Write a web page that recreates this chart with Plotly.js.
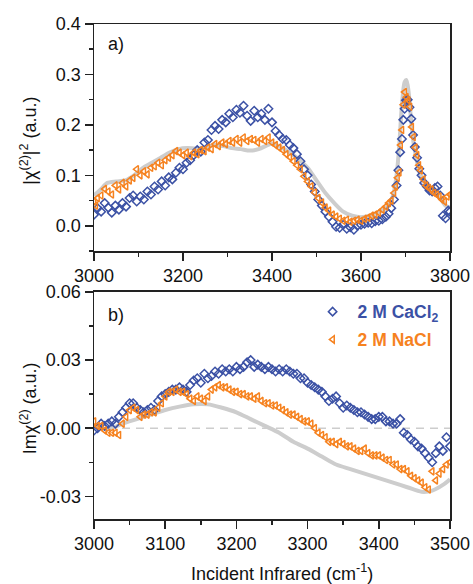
<!DOCTYPE html>
<html>
<head>
<meta charset="utf-8">
<script src="https://cdn.plot.ly/plotly-3.0.1.min.js"></script>
<style>html,body{margin:0;padding:0;background:#fff}#chart{width:473px;height:584px}</style>
</head>
<body>
<div id="chart"></div>
<script>
// ---------- Panel a) |chi(2)|^2 ----------
const topCaX = [3000,3008,3016,3024,3032,3040,3048,3056,3064,3072,3080,3088,3096,3104,3112,3120,3128,3136,3144,3152,3160,3168,3176,3184,3192,3200,3208,3216,3224,3232,3240,3248,3256,3264,3272,3280,3288,3296,3304,3312,3320,3328,3336,3344,3352,3360,3368,3376,3384,3392,3400,3408,3416,3424,3432,3440,3448,3456,3464,3472,3480,3488,3496,3504,3512,3520,3528,3536,3544,3552,3560,3568,3576,3584,3592,3600,3608,3616,3624,3632,3640,3648,3656,3662,3668,3674,3680,3684,3688,3692,3695,3698,3701,3705,3709,3713,3717,3721,3726,3731,3736,3742,3748,3754,3760,3766,3772,3778,3784,3790,3796,3800];
const topCaY = [0.022,0.035,0.028,0.045,0.036,0.026,0.040,0.032,0.045,0.038,0.055,0.060,0.048,0.058,0.052,0.068,0.062,0.078,0.072,0.088,0.080,0.096,0.092,0.105,0.115,0.112,0.125,0.130,0.140,0.150,0.147,0.165,0.170,0.190,0.198,0.192,0.210,0.205,0.222,0.215,0.230,0.224,0.238,0.218,0.208,0.228,0.215,0.222,0.210,0.232,0.205,0.188,0.180,0.172,0.170,0.160,0.154,0.142,0.128,0.112,0.100,0.082,0.068,0.052,0.040,0.028,0.018,0.008,-0.002,-0.004,0.002,-0.006,-0.003,-0.008,0.000,0.002,0.004,0.006,0.005,0.009,0.010,0.013,0.018,0.024,0.035,0.052,0.080,0.110,0.146,0.172,0.210,0.232,0.249,0.250,0.235,0.212,0.180,0.156,0.135,0.113,0.100,0.085,0.078,0.070,0.068,0.075,0.078,0.060,0.020,0.015,0.030,0.028];

const topNaX = [3000,3004,3008,3016,3024,3032,3040,3048,3056,3064,3072,3080,3088,3096,3104,3112,3120,3128,3136,3144,3152,3160,3168,3176,3184,3192,3200,3208,3216,3224,3232,3240,3248,3256,3264,3272,3280,3288,3296,3304,3312,3320,3328,3336,3344,3352,3360,3368,3376,3384,3392,3400,3408,3416,3424,3432,3440,3448,3456,3464,3472,3480,3488,3496,3504,3512,3520,3528,3536,3544,3552,3560,3568,3576,3584,3592,3600,3608,3616,3624,3632,3640,3648,3656,3662,3668,3674,3678,3682,3686,3689,3692,3695,3698,3702,3706,3710,3714,3718,3722,3726,3730,3734,3740,3746,3752,3758,3764,3770,3776,3782,3788,3794,3800];
const topNaY = [0.048,0.040,0.055,0.060,0.073,0.068,0.062,0.080,0.072,0.085,0.078,0.090,0.095,0.112,0.100,0.108,0.102,0.115,0.118,0.125,0.120,0.130,0.135,0.140,0.148,0.145,0.140,0.145,0.138,0.145,0.142,0.150,0.148,0.155,0.152,0.162,0.158,0.165,0.162,0.168,0.165,0.172,0.165,0.175,0.168,0.172,0.170,0.165,0.172,0.168,0.175,0.165,0.160,0.155,0.150,0.142,0.136,0.128,0.120,0.112,0.098,0.088,0.078,0.066,0.055,0.046,0.036,0.030,0.022,0.018,0.014,0.010,0.012,0.008,0.010,0.012,0.010,0.014,0.016,0.020,0.022,0.026,0.032,0.038,0.045,0.050,0.065,0.078,0.095,0.106,0.160,0.190,0.240,0.265,0.255,0.249,0.236,0.196,0.176,0.155,0.140,0.120,0.110,0.092,0.080,0.075,0.072,0.065,0.062,0.058,0.052,0.048,0.058,0.062];

const topRefX = [3000,3015,3030,3050,3070,3090,3110,3130,3150,3170,3190,3210,3230,3250,3270,3290,3310,3330,3350,3370,3390,3400,3420,3440,3460,3480,3500,3520,3540,3560,3580,3600,3620,3640,3660,3672,3680,3686,3692,3698,3702,3707,3712,3718,3724,3732,3745,3760,3775,3790,3800];
const topRefY = [0.060,0.072,0.085,0.088,0.090,0.100,0.115,0.125,0.135,0.145,0.152,0.154,0.153,0.155,0.160,0.158,0.154,0.152,0.149,0.152,0.160,0.163,0.156,0.145,0.132,0.115,0.090,0.065,0.045,0.028,0.020,0.017,0.020,0.027,0.038,0.060,0.100,0.160,0.240,0.285,0.289,0.265,0.215,0.165,0.135,0.105,0.082,0.070,0.058,0.040,0.036];

// ---------- Panel b) Im chi(2) ----------
const botX = [3000,3005,3010,3015,3020,3025,3030,3035,3040,3045,3050,3055,3060,3065,3070,3075,3080,3085,3090,3095,3100,3105,3110,3115,3120,3125,3130,3135,3140,3145,3150,3155,3160,3165,3170,3175,3180,3185,3190,3195,3200,3205,3210,3215,3220,3225,3230,3235,3240,3245,3250,3255,3260,3265,3270,3275,3280,3285,3290,3295,3300,3305,3310,3315,3320,3325,3330,3335,3340,3345,3350,3355,3360,3365,3370,3375,3380,3385,3390,3395,3400,3405,3410,3415,3420,3425,3430,3435,3440,3445,3450,3455,3460,3465,3470,3475,3480,3485,3490,3495,3500];
const botCaY = [-0.001,0.000,0.002,0.001,0.002,0.003,0.002,0.005,0.007,0.009,0.011,0.011,0.009,0.008,0.007,0.008,0.009,0.008,0.012,0.014,0.015,0.016,0.017,0.017,0.018,0.017,0.016,0.019,0.021,0.022,0.020,0.024,0.022,0.023,0.025,0.024,0.026,0.025,0.026,0.025,0.027,0.026,0.027,0.029,0.030,0.027,0.028,0.027,0.026,0.027,0.026,0.025,0.026,0.025,0.026,0.025,0.024,0.024,0.022,0.022,0.020,0.019,0.018,0.017,0.016,0.014,0.012,0.013,0.014,0.011,0.009,0.010,0.009,0.008,0.007,0.007,0.006,0.005,0.004,0.004,0.005,0.005,0.003,0.003,0.002,0.002,0.004,-0.002,-0.003,-0.005,-0.006,-0.008,-0.009,-0.011,-0.013,-0.015,-0.011,-0.008,-0.010,-0.004,-0.008];
const botNaY = [0.003,0.001,0.001,-0.001,-0.002,-0.002,-0.002,-0.003,0.002,0.005,0.008,0.009,0.008,0.005,0.006,0.006,0.007,0.007,0.009,0.011,0.014,0.016,0.016,0.017,0.016,0.016,0.015,0.013,0.012,0.014,0.013,0.012,0.014,0.017,0.018,0.019,0.018,0.018,0.017,0.016,0.016,0.015,0.015,0.014,0.014,0.013,0.014,0.012,0.011,0.011,0.010,0.010,0.009,0.008,0.007,0.006,0.006,0.005,0.004,0.003,0.003,0.002,0.000,-0.002,-0.003,-0.004,-0.006,-0.006,-0.007,-0.006,-0.007,-0.008,-0.008,-0.009,-0.010,-0.010,-0.009,-0.011,-0.012,-0.012,-0.012,-0.013,-0.014,-0.014,-0.016,-0.016,-0.018,-0.018,-0.019,-0.021,-0.022,-0.023,-0.024,-0.026,-0.027,-0.019,-0.023,-0.020,-0.018,-0.016,-0.015];

const botRefX = [3000,3020,3040,3060,3080,3100,3120,3140,3160,3180,3200,3220,3240,3260,3280,3300,3320,3340,3360,3380,3400,3420,3440,3460,3475,3490,3500];
const botRefY = [0.001,-0.0005,0.002,0.004,0.006,0.008,0.0095,0.0105,0.0105,0.009,0.007,0.004,0.001,-0.002,-0.006,-0.009,-0.0125,-0.016,-0.018,-0.020,-0.022,-0.024,-0.026,-0.028,-0.0275,-0.025,-0.0225];

const seriesNames = ['2 M CaCl<sub>2</sub>', '2 M NaCl'];
const topXTicks = [3000,3200,3400,3600,3800];
const topYTicks = [0.0,0.1,0.2,0.3,0.4];
const botXTicks = [3000,3100,3200,3300,3400,3500];
const botYTicks = [-0.03,0.00,0.03,0.06];
const botYTickText = ['-0.03','0.00','0.03','0.06'];

const BLUE = '#3b51a5';
const ORANGE = '#f6821f';
const GRAY = '#cdcdcd';
const FONT = 'Liberation Sans, Arial, sans-serif';

const mk = (sym, col) => ({symbol: sym, size: 6.5, color: col, line: {color: col, width: 1.5}});

const traces = [
  {x: topRefX, y: topRefY, xaxis: 'x', yaxis: 'y', mode: 'lines', line: {color: GRAY, width: 4, shape: 'spline', smoothing: 0.8}, showlegend: false, hoverinfo: 'skip'},
  {x: topCaX, y: topCaY, xaxis: 'x', yaxis: 'y', mode: 'markers', marker: mk('diamond-open', BLUE), showlegend: false},
  {x: topNaX, y: topNaY, xaxis: 'x', yaxis: 'y', mode: 'markers', marker: mk('triangle-left-open', ORANGE), showlegend: false},
  {x: botRefX, y: botRefY, xaxis: 'x2', yaxis: 'y2', mode: 'lines', line: {color: GRAY, width: 4, shape: 'spline', smoothing: 0.8}, showlegend: false, hoverinfo: 'skip'},
  {x: botX, y: botCaY, xaxis: 'x2', yaxis: 'y2', mode: 'markers', marker: mk('diamond-open', BLUE),
   name: '<b><span style="color:' + BLUE + '">' + seriesNames[0] + '</span></b>', legendgroup: 'a'},
  {x: botX, y: botNaY, xaxis: 'x2', yaxis: 'y2', mode: 'markers', marker: mk('triangle-left-open', ORANGE),
   name: '<b><span style="color:' + ORANGE + '">' + seriesNames[1] + '</span></b>', legendgroup: 'b'}
];

const axisBase = {
  showline: true, linecolor: '#222', linewidth: 1.5, mirror: true,
  ticks: 'outside', ticklen: 8, tickwidth: 1.5, tickcolor: '#222',
  showgrid: false, zeroline: false,
  tickfont: {family: FONT, size: 18, color: '#111'}
};

const layout = {
  width: 473, height: 584,
  margin: {l: 94, r: 23, t: 24, b: 65},
  paper_bgcolor: '#fff', plot_bgcolor: '#fff',
  font: {family: FONT, size: 18, color: '#111'},
  xaxis: Object.assign({}, axisBase, {domain: [0, 1], anchor: 'y', range: [3000, 3800], tickvals: topXTicks,
    minor: {dtick: 100, ticks: 'outside', ticklen: 4, tickwidth: 1.5, tickcolor: '#222'}}),
  yaxis: Object.assign({}, axisBase, {domain: [0.5414, 1], anchor: 'x', range: [-0.05, 0.4], tickvals: topYTicks, tickformat: '.1f',
    minor: {dtick: 0.05, tick0: 0, ticks: 'outside', ticklen: 4, tickwidth: 1.5, tickcolor: '#222'}}),
  xaxis2: Object.assign({}, axisBase, {domain: [0, 1], anchor: 'y2', range: [3000, 3500], tickvals: botXTicks,
    minor: {dtick: 50, ticks: 'outside', ticklen: 4, tickwidth: 1.5, tickcolor: '#222'}}),
  yaxis2: Object.assign({}, axisBase, {domain: [0, 0.4586], anchor: 'x2', range: [-0.04, 0.06], tickvals: botYTicks, ticktext: botYTickText,
    minor: {dtick: 0.015, tick0: 0, ticks: 'outside', ticklen: 4, tickwidth: 1.5, tickcolor: '#222'}}),
  showlegend: true,
  legend: {x: 0.6, y: 0.455, xanchor: 'left', yanchor: 'top', bgcolor: 'rgba(0,0,0,0)',
    font: {family: FONT, size: 17.5}, traceorder: 'grouped', tracegroupgap: 2, itemwidth: 40},
  shapes: [
    {type: 'line', xref: 'x2 domain', yref: 'y2', x0: 0, x1: 1, y0: 0, y1: 0,
     line: {color: GRAY, width: 1.5, dash: '8px,6px'}, layer: 'below'}
  ],
  annotations: [
    {text: 'a)', xref: 'paper', yref: 'paper', x: 0.035, y: 0.96, xanchor: 'left', yanchor: 'middle', showarrow: false, font: {family: FONT, size: 18, color: '#111'}},
    {text: 'b)', xref: 'paper', yref: 'paper', x: 0.035, y: 0.413, xanchor: 'left', yanchor: 'middle', showarrow: false, font: {family: FONT, size: 18, color: '#111'}},
    {text: 'Incident Infrared (cm<sup>-1</sup>)', xref: 'paper', yref: 'paper', x: 0.528, y: -0.108, xanchor: 'center', yanchor: 'middle', showarrow: false, font: {family: FONT, size: 18, color: '#111'}},
    {text: '|χ<sup>(2)</sup>|<sup>2</sup> (a.u.)', xref: 'paper', yref: 'paper', x: -0.183, y: 0.764, textangle: -90, xanchor: 'center', yanchor: 'middle', showarrow: false, font: {family: FONT, size: 18, color: '#111'}},
    {text: 'Imχ<sup>(2)</sup> (a.u.)', xref: 'paper', yref: 'paper', x: -0.185, y: 0.224, textangle: -90, xanchor: 'center', yanchor: 'middle', showarrow: false, font: {family: FONT, size: 18, color: '#111'}}
  ]
};

Plotly.newPlot('chart', traces, layout, {displayModeBar: false, staticPlot: true});
</script>
</body>
</html>
